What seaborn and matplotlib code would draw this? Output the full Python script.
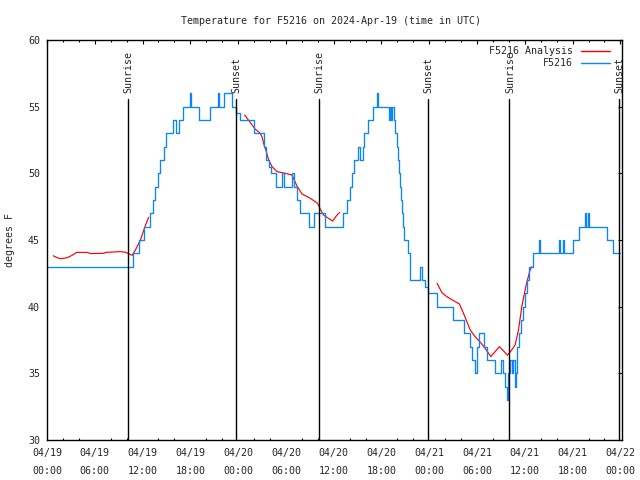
import matplotlib
matplotlib.use("Agg")
import matplotlib.pyplot as plt
import matplotlib.transforms as mtransforms
from matplotlib.ticker import MultipleLocator
from matplotlib.lines import Line2D
import seaborn as sns
import pandas as pd

# ---------------- data (hours since 2024-04-19 00:00 UTC) ----------------
obs_hours = [0.0, 10.82, 11.52, 12.23, 12.90, 13.27, 13.61, 13.93, 14.24, 14.65,
             14.99, 15.78, 16.25, 16.59, 17.09, 18.0, 18.13, 19.05, 20.51, 21.48,
             21.61, 22.18, 23.24, 23.78, 24.28, 26.04, 27.20, 27.54, 27.92, 28.13,
             28.80, 29.51, 29.80, 30.80, 31.05, 31.43, 31.80, 32.85, 33.56, 34.88,
             37.16, 37.67, 38.08, 38.33, 38.49, 39.0, 39.25, 39.67, 39.84, 40.25,
             40.88, 41.38, 41.51, 42.97, 43.10, 43.22, 43.35, 43.51, 43.73, 43.94,
             44.10, 44.23, 44.35, 44.48, 44.60, 44.69, 44.77, 45.36, 45.52, 46.86,
             47.08, 47.49, 47.78, 48.96, 50.97, 52.30, 53.14, 53.39, 53.76, 53.98,
             54.27, 54.89, 55.31, 56.27, 57.03, 57.24, 57.53, 57.82, 57.94, 58.16,
             58.37, 58.53, 58.78, 58.91, 59.07, 59.29, 59.54, 59.82, 60.04, 60.25,
             60.54, 61.04, 61.79, 61.96, 64.27, 64.39, 64.77, 64.93, 66.02, 66.81,
             67.57, 67.69, 67.94, 68.07, 70.36, 71.12, 71.93]
obs_temps = [43, 44, 45, 46, 47, 48, 49, 50, 51, 52,
             53, 54, 53, 54, 55, 56, 55, 54, 55, 56,
             55, 56, 55, 54.5, 54, 53, 52, 51, 50.5, 50,
             49, 50, 49, 50, 49, 48, 47, 46, 47, 46,
             47, 48, 49, 50, 51, 52, 51, 52, 53, 54,
             55, 56, 55, 54, 55, 54, 55, 54, 53, 52,
             51, 50, 49, 48, 47, 46, 45, 44, 42, 43,
             42, 41.5, 41, 40, 39, 38, 37, 36, 35, 37,
             38, 37, 36, 35, 36, 35, 34, 33, 35, 36,
             35, 36, 34, 35, 37, 38, 39, 40, 41, 42,
             43, 44, 45, 44, 45, 44, 45, 44, 45, 46,
             47, 46, 47, 46, 45, 44, 44]

ana_seg1_hours = [0.78, 1.28, 1.69, 2.53, 3.16, 3.70, 5.04, 5.46, 7.13, 7.34,
                  9.22, 9.85, 10.14, 10.69, 11.10, 11.73, 12.36, 12.77]
ana_seg1_temps = [43.82, 43.67, 43.6, 43.67, 43.85, 44.07, 44.07, 43.98, 44.0, 44.07,
                  44.13, 44.08, 44.0, 43.85, 44.25, 45.0, 46.1, 46.7]
ana_seg2_hours = [24.82, 25.12, 25.75, 26.16, 26.70, 27.0, 27.20, 27.54, 27.83, 28.26,
                  28.88, 29.92, 30.77, 31.39, 32.02, 33.06, 33.98, 34.32, 34.73, 35.36,
                  35.86, 36.32, 36.74]
ana_seg2_temps = [54.37, 54.13, 53.63, 53.3, 53.05, 52.75, 52.25, 51.63, 51.0, 50.5,
                  50.13, 50.0, 49.87, 49.05, 48.45, 48.13, 47.75, 47.3, 46.87, 46.62,
                  46.42, 46.8, 47.07]
ana_seg3_hours = [48.98, 49.59, 50.21, 51.04, 51.79, 52.30, 53.14, 53.76, 54.60, 55.23,
                  55.73, 56.81, 57.82, 58.16, 58.78, 59.20, 59.62, 60.16, 60.66, 60.88]
ana_seg3_temps = [41.75, 41.05, 40.75, 40.45, 40.2, 39.5, 38.25, 37.75, 37.2, 36.7,
                  36.25, 37.0, 36.37, 36.6, 37.12, 38.25, 40.0, 41.62, 42.75, 43.0]

sun_hours = [10.14, 23.69, 34.10, 47.78, 58.07, 71.77]
sun_labels = ["Sunrise", "Sunset", "Sunrise", "Sunset", "Sunrise", "Sunset"]

xtick_hours = list(range(0, 73, 6))
xtick_labels = ["04/19\n00:00", "04/19\n06:00", "04/19\n12:00", "04/19\n18:00",
                "04/20\n00:00", "04/20\n06:00", "04/20\n12:00", "04/20\n18:00",
                "04/21\n00:00", "04/21\n06:00", "04/21\n12:00", "04/21\n18:00",
                "04/22\n00:00"]

title = "Temperature for F5216 on 2024-Apr-19 (time in UTC)"
ylabel = "degrees F"
ana_name = "F5216 Analysis"
obs_name = "F5216"

# ---------------- styling ----------------
sns.set_style("white")
plt.rcParams["font.family"] = ["DejaVu Sans Mono", "DejaVu Sans"]
FS = 7.2
BLUE = "#0a84ff"
RED = "#ff0000"

obs_df = pd.DataFrame({"hour": obs_hours, "temp": obs_temps})
ana_df = pd.concat([
    pd.DataFrame({"hour": ana_seg1_hours, "temp": ana_seg1_temps, "seg": 1}),
    pd.DataFrame({"hour": ana_seg2_hours, "temp": ana_seg2_temps, "seg": 2}),
    pd.DataFrame({"hour": ana_seg3_hours, "temp": ana_seg3_temps, "seg": 3}),
], ignore_index=True)

fig = plt.figure(figsize=(6.4, 4.8), dpi=100)
ax = fig.add_axes([47 / 640, 40 / 480, 575 / 640, 400 / 480])

sns.lineplot(data=ana_df, x="hour", y="temp", units="seg", estimator=None,
             color=RED, linewidth=0.85, ax=ax)
sns.lineplot(data=obs_df, x="hour", y="temp", color=BLUE, linewidth=0.95,
             drawstyle="steps-post", ax=ax)

trans = mtransforms.blended_transform_factory(ax.transData, ax.transAxes)
for h, lab in zip(sun_hours, sun_labels):
    ax.axvline(h, ymin=0, ymax=0.852, color="black", linewidth=1.0)
    ax.text(h + 0.1, 0.868, lab, rotation=90, ha="center", va="bottom",
            fontsize=FS, transform=trans)

ax.set_xlim(0, 72.2)
ax.set_ylim(30, 60)
ax.set_xticks(xtick_hours)
ax.set_xticklabels(xtick_labels, fontsize=FS)
for t in ax.get_xticklabels():
    t.set_linespacing(1.95)
ax.xaxis.set_minor_locator(MultipleLocator(2))
ax.set_yticks(range(30, 61, 5))
ax.set_yticklabels([str(v) for v in range(30, 61, 5)], fontsize=FS)
ax.tick_params(axis="both", which="major", direction="in", length=3.0, width=0.8,
               top=True, right=True, color="black", pad=5)
ax.tick_params(axis="x", which="major", pad=6)
ax.tick_params(axis="both", which="minor", direction="in", length=1.5, width=0.8,
               top=True, right=False, bottom=True, color="black")
ax.tick_params(axis="y", which="minor", left=False, right=False)
for sp in ax.spines.values():
    sp.set_color("black")
    sp.set_linewidth(1.0)
ax.set_xlabel("")
ax.set_ylabel("")

fig.text(10 / 640, 1 - 240 / 480, ylabel, rotation=90, ha="center", va="center",
         fontsize=FS)
fig.text(331 / 640, 1 - 20.5 / 480, title, ha="center", va="center", fontsize=FS)

handles = [Line2D([], [], color=RED, linewidth=1.0),
           Line2D([], [], color=BLUE, linewidth=1.0)]
ax.legend(handles, [ana_name, obs_name], loc="upper right",
          bbox_to_anchor=((609.5 - 47) / 575, (440 - 46.5) / 400),
          frameon=False, markerfirst=False, fontsize=FS, borderpad=0,
          borderaxespad=0, labelspacing=0.2, handlelength=2.85, handletextpad=0.8)

fig.savefig("out.png", dpi=100)
